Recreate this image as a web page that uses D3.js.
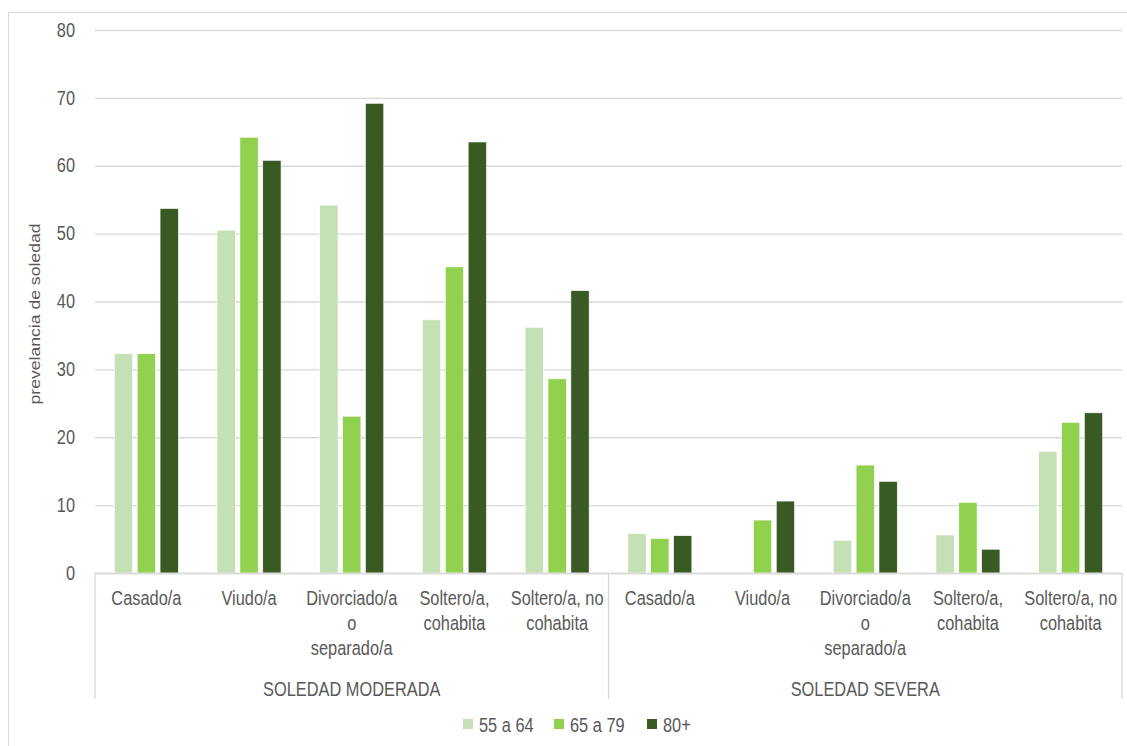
<!DOCTYPE html>
<html>
<head>
<meta charset="utf-8">
<script src="https://cdn.jsdelivr.net/npm/d3@7"></script>
<style>
  body { margin: 0; background: #fff; }
  text { font-family: "Liberation Sans", Arial, sans-serif; fill: #595959; }
</style>
</head>
<body>
<div id="chart"></div>
<script>
// data
var groups = ["SOLEDAD MODERADA", "SOLEDAD SEVERA"];
var categories = [
  ["Casado/a"],
  ["Viudo/a"],
  ["Divorciado/a", "o", "separado/a"],
  ["Soltero/a,", "cohabita"],
  ["Soltero/a, no", "cohabita"]
];
var seriesNames = ["55 a 64", "65 a 79", "80+"];
var seriesColors = ["#c5e0b4", "#92d050", "#3a5a24"];
// per group: one array per series, in category order
var moderada = [
  [32.3, 50.5, 54.2, 37.3, 36.2],
  [32.3, 64.2, 23.1, 45.1, 28.6],
  [53.7, 60.8, 69.2, 63.5, 41.6]
];
var severa = [
  [5.8, 0, 4.8, 5.6, 17.9],
  [5.1, 7.8, 15.9, 10.4, 22.2],
  [5.5, 10.6, 13.5, 3.5, 23.6]
];
var yTicks = [0, 10, 20, 30, 40, 50, 60, 70, 80];
var yTitle = "prevelancia de soledad";

var W = 1127, H = 746;
var m = {left: 95, right: 1122, top: 30, bottom: 573};
var squeeze = 0.84;
var fs = "19.5px";

var svg = d3.select("#chart").append("svg")
    .attr("width", W).attr("height", H);

// outer frame
svg.append("rect")
    .attr("x", 8.5).attr("y", 12.5)
    .attr("width", W).attr("height", H)
    .attr("fill", "none").attr("stroke", "#d9d9d9");

// flatten into rows
var rows = [];
[moderada, severa].forEach(function(g, gi) {
  categories.forEach(function(c, ci) {
    rows.push({key: gi + "-" + ci, group: gi, label: c,
      values: g.map(function(s, si) { return {v: s[ci], s: si}; })});
  });
});

var y = d3.scaleLinear().domain([0, 80]).range([m.bottom, m.top]);
var x0 = d3.scaleBand().domain(rows.map(function(d) { return d.key; }))
    .range([m.left, m.right]).padding(0);
var groupW = 64;
var x1 = d3.scaleBand().domain(d3.range(3)).range([0, groupW]).paddingInner(0.2);

// gridlines + y ticks
var yAxis = svg.append("g").attr("transform", "translate(" + m.left + ",0)")
    .call(d3.axisLeft(y).tickValues(yTicks).tickSize(-(m.right - m.left)).tickPadding(20));
yAxis.select(".domain").remove();
yAxis.selectAll(".tick line").attr("stroke", "#d9d9d9").attr("stroke-width", 1.3);
yAxis.selectAll(".tick text")
    .attr("fill", "#595959").style("font-size", fs)
    .attr("font-family", "Liberation Sans, Arial, sans-serif")
    .attr("transform", "scale(" + squeeze + ",1)")
    .attr("x", -20 / squeeze);

// y title
svg.append("text")
    .attr("transform", "translate(40,314) scale(" + squeeze + ",1) rotate(-90)")
    .attr("text-anchor", "middle")
    .style("font-size", "17.6px")
    .text(yTitle);

// bars
var cat = svg.selectAll(".cat").data(rows).enter().append("g")
    .attr("class", "cat")
    .attr("transform", function(d) {
      return "translate(" + (x0(d.key) + (x0.bandwidth() - groupW) / 2) + ",0)";
    });
cat.selectAll("rect")
    .data(function(d) { return d.values.filter(function(b) { return b.v > 0; }); })
    .enter().append("rect")
    .attr("x", function(b) { return x1(b.s); })
    .attr("width", x1.bandwidth())
    .attr("y", function(b) { return y(b.v); })
    .attr("height", function(b) { return y(0) - y(b.v); })
    .attr("fill", function(b) { return seriesColors[b.s]; })
    .attr("stroke", "#fff").attr("stroke-width", 0.6);

// x axis line and separators
svg.append("line")
    .attr("x1", m.left).attr("x2", m.right)
    .attr("y1", m.bottom + 0.5).attr("y2", m.bottom + 0.5)
    .attr("stroke", "#d9d9d9").attr("stroke-width", 1.3);
var seps = [m.left, x0(rows[5].key), m.right];
svg.selectAll(".sep").data(seps).enter().append("line")
    .attr("class", "sep")
    .attr("x1", function(d) { return d; }).attr("x2", function(d) { return d; })
    .attr("y1", m.bottom).attr("y2", 699)
    .attr("stroke", "#d9d9d9").attr("stroke-width", 1.3);

// category labels
var lab = svg.selectAll(".lab").data(rows).enter().append("text")
    .attr("class", "lab")
    .attr("text-anchor", "middle")
    .style("font-size", fs)
    .attr("transform", function(d) {
      return "translate(" + (x0(d.key) + x0.bandwidth() / 2) + ",605) scale(" + squeeze + ",1)";
    });
lab.selectAll("tspan").data(function(d) { return d.label; }).enter().append("tspan")
    .attr("x", 0).attr("y", function(d, i) { return i * 25; })
    .text(function(d) { return d; });

// group labels
svg.selectAll(".grp").data(groups).enter().append("text")
    .attr("class", "grp")
    .attr("text-anchor", "middle")
    .style("font-size", fs)
    .attr("transform", function(d, i) {
      var cx = (seps[i] + seps[i + 1]) / 2;
      return "translate(" + cx + ",696) scale(" + squeeze + ",1)";
    })
    .text(function(d) { return d; });

// legend
var legX = [463, 554, 647];
var leg = svg.selectAll(".leg").data(seriesNames).enter().append("g")
    .attr("class", "leg")
    .attr("transform", function(d, i) { return "translate(" + legX[i] + ",719)"; });
leg.append("rect").attr("width", 10).attr("height", 10)
    .attr("fill", function(d, i) { return seriesColors[i]; });
leg.append("text")
    .attr("transform", "translate(16,13) scale(" + squeeze + ",1)")
    .style("font-size", fs)
    .text(function(d) { return d; });
</script>
</body>
</html>
